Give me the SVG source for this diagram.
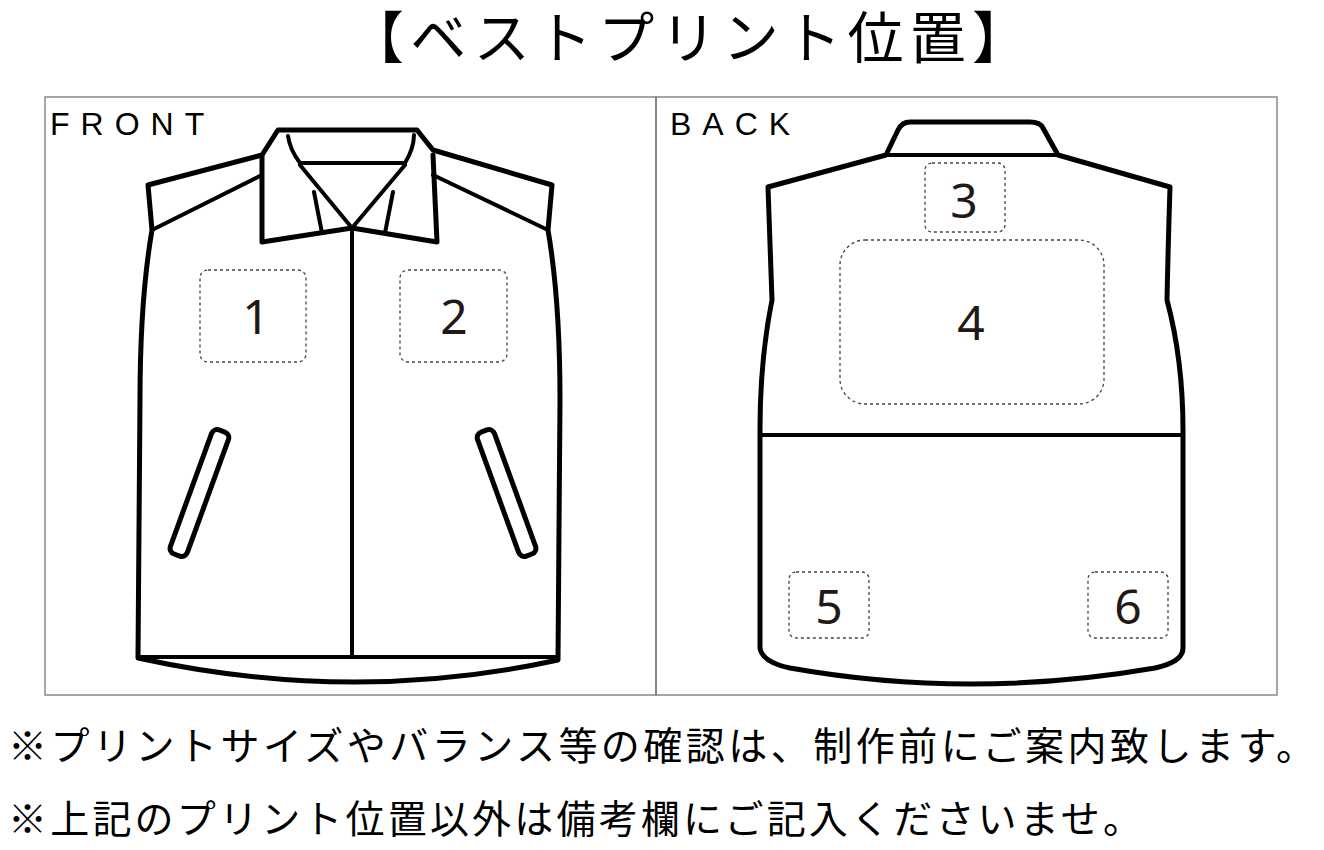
<svg xmlns="http://www.w3.org/2000/svg" width="1324" height="850" viewBox="0 0 1324 850">
<style>
.ol{fill:none;stroke:#000;stroke-width:5;stroke-linejoin:round;stroke-linecap:round}
.th{fill:none;stroke:#000;stroke-width:4;stroke-linecap:round}
.box{fill:none;stroke:#444;stroke-width:1.3;stroke-dasharray:3 3}
.num{font-family:"Noto Sans","Liberation Sans",sans-serif;font-size:48px;text-anchor:middle;fill:#231815}
.lab{font-family:"Liberation Sans",sans-serif;font-size:32px;letter-spacing:11px;fill:#000}
.jp{font-family:"Noto Sans CJK JP",sans-serif;fill:#000}
</style>
<rect width="1324" height="850" fill="#fff"/>
<text class="jp" x="348" y="58" font-size="56" textLength="680" lengthAdjust="spacing">【ベストプリント位置】</text>
<rect x="45" y="97" width="611" height="598" fill="none" stroke="#777" stroke-width="1.3"/>
<rect x="656" y="97" width="621" height="598" fill="none" stroke="#777" stroke-width="1.3"/>
<text class="lab" x="50" y="135">FRONT</text>
<text class="lab" x="670" y="135">BACK</text>
<g id="front">
<path class="ol" d="M262,155 L148,185 L152,230 Q140,300 140,400 L138,658 Q352,705 558,660 L560,400 Q560,300 548,230 L552,185 L433,150 L417,130 L278,130 Z"/>
<path class="th" d="M262,175 L152,230 M433,175 L548,230 M140,657 L558,657"/>
<path class="ol" d="M262,155 L262,242 L352,228 L437,242 L433,155"/>
<path class="th" d="M288,136 Q290,150 300,163 L405,163 Q414,148 414,135 M300,165 L352,228 L405,165 M314,192 L322,233 M393,192 L385,233 M352,228 L352,655"/>
<rect class="ol" x="-9" y="0" width="18" height="132" rx="6" transform="translate(222,431) rotate(20)"/>
<rect class="ol" x="-9" y="0" width="18" height="132" rx="6" transform="translate(484,431) rotate(-20)"/>
<rect class="box" x="200" y="270" width="106" height="92" rx="8"/>
<rect class="box" x="400" y="270" width="107" height="92" rx="8"/>
<text class="num" x="256" y="334">1</text>
<text class="num" x="454" y="334">2</text>
</g>
<g id="back">
<path class="ol" d="M886,155 L768,187 Q770,250 772,300 Q760,360 760,430 L760,648 Q762,662 790,668 Q970,700 1155,668 Q1183,662 1183,648 L1183,430 Q1183,360 1167,300 Q1168,250 1170,187 L1058,155 L1043,128 Q1040,122 1030,122 L910,122 Q902,122 898,130 Z"/>
<path class="th" d="M886,155 L1058,155 M760,435 L1183,435"/>
<rect class="box" x="925" y="163" width="80" height="69" rx="7"/>
<rect class="box" x="840" y="240" width="264" height="164" rx="25"/>
<rect class="box" x="789" y="572" width="80" height="66" rx="7"/>
<rect class="box" x="1088" y="572" width="80" height="66" rx="7"/>
<text class="num" x="964" y="218">3</text>
<text class="num" x="971" y="340">4</text>
<text class="num" x="829" y="624" font-size="38">5</text>
<text class="num" x="1128" y="624" font-size="38">6</text>
</g>
<text class="jp" x="8" y="760" font-size="39" textLength="1307" lengthAdjust="spacing">※プリントサイズやバランス等の確認は、制作前にご案内致します。</text>
<text class="jp" x="8" y="833" font-size="39" textLength="1134" lengthAdjust="spacing">※上記のプリント位置以外は備考欄にご記入くださいませ。</text>
</svg>
